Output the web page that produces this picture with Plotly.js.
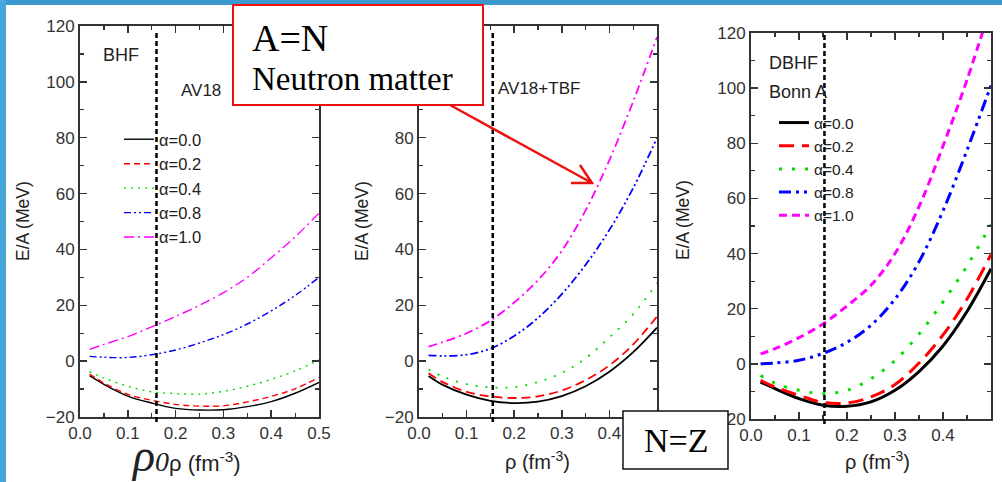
<!DOCTYPE html>
<html><head><meta charset="utf-8">
<script src="https://cdn.plot.ly/plotly-3.0.1.min.js"></script>
<style>html,body{margin:0;padding:0;background:#fff;}#chart{width:1002px;height:482px;}</style>
</head><body><div id="chart"></div>
<script>
// ---------- data ----------
const rho = [0.02, 0.05, 0.1, 0.15, 0.2, 0.25, 0.3, 0.35, 0.4, 0.45, 0.5];
const alphaLabels = ['α=0.0', 'α=0.2', 'α=0.4', 'α=0.8', 'α=1.0'];

// Panel 1: BHF, AV18
const bhf_a00 = [-5.2, -8.3, -12.5, -15.0, -16.9, -17.5, -17.4, -16.3, -14.5, -11.5, -7.6];
const bhf_a02 = [-4.6, -7.8, -11.9, -14.0, -15.5, -16.1, -16.0, -14.6, -12.6, -9.9, -5.8];
const bhf_a04 = [-3.8, -6.0, -9.0, -11.0, -11.6, -11.8, -10.8, -9.0, -6.5, -3.5, 0.5];
const bhf_a08 = [1.7, 1.4, 1.3, 2.3, 4.0, 6.5, 9.5, 13.3, 18.0, 23.5, 30.0];
const bhf_a10 = [4.2, 6.0, 8.8, 12.3, 16.0, 20.0, 24.5, 30.0, 37.0, 44.5, 53.0];

// Panel 2: BHF, AV18+TBF
const tbf_a00 = [-5.3, -8.5, -12.0, -14.2, -15.0, -14.5, -12.5, -9.0, -3.8, 3.2, 12.0];
const tbf_a02 = [-4.3, -7.5, -11.0, -12.6, -13.2, -12.6, -10.5, -6.8, -1.5, 6.0, 16.0];
const tbf_a04 = [-3.0, -5.5, -8.2, -9.4, -9.3, -7.5, -4.2, 1.0, 8.5, 16.8, 28.0];
const tbf_a08 = [2.1, 1.9, 2.3, 4.5, 9.0, 15.5, 24.0, 34.5, 47.0, 62.0, 80.0];
const tbf_a10 = [5.2, 6.8, 10.0, 14.5, 21.0, 29.0, 39.5, 54.0, 72.0, 93.0, 116.0];

// Panel 3: DBHF, Bonn A
const dbhf_a00 = [-6.6, -9.0, -12.6, -15.0, -15.4, -13.8, -9.6, -2.8, 6.5, 19.0, 34.5];
const dbhf_a02 = [-6.0, -8.4, -11.4, -14.0, -14.2, -12.0, -7.5, 0.3, 10.5, 23.5, 39.7];
const dbhf_a04 = [-4.2, -7.0, -9.6, -10.8, -9.6, -5.4, 1.2, 10.8, 22.5, 35.5, 50.5];
const dbhf_a08 = [0.0, 0.3, 1.3, 3.8, 7.8, 14.0, 23.5, 37.0, 55.5, 77.5, 101.0];
const dbhf_a10 = [3.6, 5.5, 9.5, 14.5, 21.0, 28.5, 40.0, 57.0, 79.0, 103.0, 130.0];

// saturation density markers (dashed vertical lines), one per panel
const rho0 = [0.16, 0.155, 0.153];

const panelLabels = [['BHF', 'AV18'], ['AV18+TBF'], ['DBHF', 'Bonn A']];

// ---------- styling ----------
const W = 1002, H = 482;
const px = v => v / W;
const py = v => 1 - v / H;

const colors = ['#000000', '#ff0000', '#00dd00', '#0000ff', '#ff00ff'];
const dashes = [
  ['solid', '6px,4px', '2px,5px', '7px,3px,2px,3px,2px,3px', '10px,4px,2px,4px'],
  ['solid', '9px,5px', '2px,8px', '8px,3px,2px,3px,2px,3px', '9px,4px,2px,4px'],
  ['solid', '15px,8px', '3px,10px', '12px,5px,3px,5px,3px,5px', '8px,5px']
];
const widths = [1.4, 1.8, 3];

const panelData = [
  [bhf_a00, bhf_a02, bhf_a04, bhf_a08, bhf_a10],
  [tbf_a00, tbf_a02, tbf_a04, tbf_a08, tbf_a10],
  [dbhf_a00, dbhf_a02, dbhf_a04, dbhf_a08, dbhf_a10]
];
const axSuffix = ['', '2', '3'];

const traces = [];
panelData.forEach((series, p) => {
  series.forEach((ys, i) => {
    traces.push({
      x: rho, y: ys, type: 'scatter', mode: 'lines',
      name: alphaLabels[i],
      xaxis: 'x' + axSuffix[p], yaxis: 'y' + axSuffix[p],
      line: {color: colors[i], width: widths[p], dash: dashes[p][i], shape: 'spline', smoothing: 1},
      showlegend: p !== 1,
      legend: p === 0 ? 'legend' : 'legend2',
      hoverinfo: 'skip'
    });
  });
});

const axisCommon = {
  ticks: 'inside', ticklen: 7, tickwidth: 1.5, tickcolor: '#333',
  showline: true, linecolor: '#333', linewidth: 2, mirror: 'ticks',
  showgrid: false, zeroline: false, fixedrange: true,
  tickfont: {size: 17, color: '#333', family: 'Liberation Sans, Arial, sans-serif'}
};
function axX(d, anchor) {
  return Object.assign({}, axisCommon, {
    domain: [px(d[0]), px(d[1])], anchor: anchor, range: [0, 0.5],
    tick0: 0, dtick: 0.1, tickformat: '.1f',
    minor: {ticks: 'inside', ticklen: 4, tickwidth: 1.2, tickcolor: '#333', dtick: 0.05}
  });
}
function axY(d, anchor) {
  return Object.assign({}, axisCommon, {
    domain: [py(d[1]), py(d[0])], anchor: anchor, range: [-20, 120],
    tick0: 0, dtick: 20,
    minor: {ticks: 'inside', ticklen: 4, tickwidth: 1.2, tickcolor: '#333', dtick: 10}
  });
}

const panelX = [[80, 319], [419, 657], [751, 991]];
const panelY = [[26, 417], [26, 417], [33, 419]];

const shapes = [
  // slide frame
  {type: 'rect', xref: 'paper', yref: 'paper', x0: 0, x1: 1, y0: py(5), y1: 1, fillcolor: '#3b98cf', line: {width: 0}, layer: 'below'},
  {type: 'rect', xref: 'paper', yref: 'paper', x0: 0, x1: px(6), y0: 0, y1: 1, fillcolor: '#48a7da', line: {width: 0}, layer: 'below'}
];
const vlineY = [[32, 422], [30, 422], [33, 424]];
rho0.forEach((r, p) => {
  shapes.push({type: 'line', xref: 'x' + axSuffix[p], yref: 'paper', x0: r, x1: r,
    y0: py(vlineY[p][1]), y1: py(vlineY[p][0]),
    line: {color: '#000', width: 2.5, dash: '5px,3px'}, layer: 'above'});
});
// callout boxes
shapes.push({type: 'rect', xref: 'paper', yref: 'paper', x0: px(233), x1: px(483), y0: py(105), y1: py(5),
  fillcolor: '#fff', line: {color: '#ee1111', width: 2}, layer: 'above'});
shapes.push({type: 'path', xref: 'paper', yref: 'paper',
  path: 'M' + px(450) + ',' + py(105) + ' L' + px(592) + ',' + py(183) +
        ' M' + px(571) + ',' + py(183) + ' L' + px(592) + ',' + py(183) + ' L' + px(580) + ',' + py(165),
  line: {color: '#ee1111', width: 2.5}, layer: 'above'});
shapes.push({type: 'rect', xref: 'paper', yref: 'paper', x0: px(623), x1: px(728), y0: py(469), y1: py(411),
  fillcolor: '#fff', line: {color: '#111', width: 1.5}, layer: 'above'});

const sans = 'Liberation Sans, Arial, sans-serif';
const serif = 'Liberation Serif, Times New Roman, serif';
function txt(text, x, y, size, opts) {
  return Object.assign({text: text, x: px(x), y: py(y), xref: 'paper', yref: 'paper', showarrow: false,
    xanchor: 'left', yanchor: 'middle', font: {family: sans, size: size, color: '#222'}}, opts || {});
}
const annotations = [
  txt(panelLabels[0][0], 101, 55, 18),
  txt(panelLabels[0][1], 179, 90, 17),
  txt(panelLabels[1][0], 496, 88, 17),
  txt(panelLabels[2][0], 767, 63, 18),
  txt(panelLabels[2][1], 767, 92, 18),
  // y titles
  txt('E/A (MeV)', 23, 221, 17.5, {xanchor: 'center', textangle: -90}),
  txt('E/A (MeV)', 362, 221, 17.5, {xanchor: 'center', textangle: -90}),
  txt('E/A (MeV)', 683, 220, 17.5, {xanchor: 'center', textangle: -90}),
  // x titles
  txt('ρ (fm<sup>-3</sup>)', 537, 460, 20, {xanchor: 'center'}),
  txt('ρ (fm<sup>-3</sup>)', 877, 460, 20, {xanchor: 'center'}),
  txt('<span style="font-family:Liberation Serif;font-style:italic;font-size:46px">ρ</span>' +
      '<span style="font-family:Liberation Serif;font-style:italic;font-size:28px">0</span>' +
      '<span style="font-size:22px">ρ (fm<sup>-3</sup>)</span>', 129, 455, 22),
  // callouts
  txt('A=N', 250, 38, 38, {font: {family: serif, size: 38, color: '#000'}}),
  txt('Neutron matter', 250, 79, 33, {font: {family: serif, size: 33, color: '#000'}}),
  txt('N=Z', 676, 440, 34, {xanchor: 'center', font: {family: serif, size: 34, color: '#000'}})
];

const layout = {
  width: W, height: H, margin: {l: 0, r: 0, t: 0, b: 0},
  paper_bgcolor: '#fff', plot_bgcolor: '#fff',
  font: {family: sans, color: '#333', size: 17},
  xaxis: axX(panelX[0], 'y'), yaxis: axY(panelY[0], 'x'),
  xaxis2: axX(panelX[1], 'y2'), yaxis2: axY(panelY[1], 'x2'),
  xaxis3: axX(panelX[2], 'y3'), yaxis3: axY(panelY[2], 'x3'),
  legend: {x: px(119), y: py(122), xanchor: 'left', yanchor: 'top', bgcolor: 'rgba(0,0,0,0)',
    borderwidth: 0, font: {size: 16.5, color: '#222', family: sans}, tracegroupgap: 0},
  legend2: {x: px(774), y: py(106), xanchor: 'left', yanchor: 'top', bgcolor: 'rgba(0,0,0,0)',
    borderwidth: 0, font: {size: 15.5, color: '#222', family: sans}, tracegroupgap: 0},
  shapes: shapes, annotations: annotations
};

Plotly.newPlot('chart', traces, layout, {staticPlot: true, displayModeBar: false});
</script>
</body></html>
